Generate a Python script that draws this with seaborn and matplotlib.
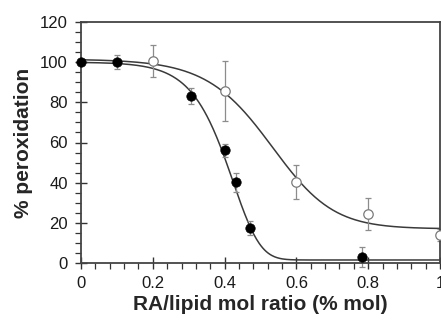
import numpy as np
import pandas as pd
import matplotlib
matplotlib.use('Agg')
import matplotlib.pyplot as plt
import seaborn as sns
from matplotlib.ticker import MultipleLocator

sns.set_theme(style = 'ticks')
plt.rcParams['font.family'] = ['Liberation Sans', 'DejaVu Sans']

# filled circles
ratio_filled = [0.0, 0.1, 0.306, 0.40, 0.431, 0.471, 0.782]
perox_filled = [100.0, 100.0, 83.2, 56.2, 40.2, 17.3, 2.8]
err_filled = [1.0, 3.5, 3.8, 3.3, 4.6, 3.4, 5.0]

# open circles
ratio_open = [0.2, 0.4, 0.6, 0.8, 1.0]
perox_open = [100.5, 85.5, 40.5, 24.5, 13.8]
err_open = [8.0, 15.0, 8.5, 8.0, 3.0]

# fitted sigmoid parameters: bottom, top, centre, width, asymmetry
fit_filled = (1.5, 100.0, 0.54, 0.065, 6.0)
fit_open = (17.0, 101.5, 0.56, 0.095, 1.30)

x_ticks = [0, 0.2, 0.4, 0.6, 0.8, 1.0]
x_labels = ['0', '0.2', '0.4', '0.6', '0.8', '1']
y_ticks = [0, 20, 40, 60, 80, 100, 120]
y_labels = ['0', '20', '40', '60', '80', '100', '120']


def sigmoid(x, b, t, c, s, g):
    return b + (t - b) / (1 + np.exp((x - c) / s)) ** g


def main() -> None:

    fig = plt.figure(figsize = (4.41, 3.22), dpi = 100)
    ax = fig.add_axes([81 / 441, 1 - 263 / 322, 359 / 441, 241 / 322])

    xs = np.linspace(0, 1, 400)
    curves = pd.DataFrame({
        'x': np.concatenate([xs, xs]),
        'y': np.concatenate([sigmoid(xs, *fit_filled), sigmoid(xs, *fit_open)]),
        'set': ['filled'] * len(xs) + ['open'] * len(xs),
    })
    sns.lineplot(data = curves, x = 'x', y = 'y', units = 'set', estimator = None,
                 color = '#3a3a3a', linewidth = 1.1, ax = ax, legend = False)

    ax.errorbar(ratio_open, perox_open, yerr = err_open, fmt = 'none',
                ecolor = '#8c8c8c', elinewidth = 0.9, capsize = 2.0, capthick = 0.9, clip_on = False)
    ax.errorbar(ratio_filled, perox_filled, yerr = err_filled, fmt = 'none',
                ecolor = '#8c8c8c', elinewidth = 0.9, capsize = 2.0, capthick = 0.9, clip_on = False)

    sns.scatterplot(x = ratio_open, y = perox_open, s = 46, color = 'white',
                    edgecolor = '#7a7a7a', linewidth = 0.9, ax = ax, clip_on = False, zorder = 4)
    sns.scatterplot(x = ratio_filled, y = perox_filled, s = 46, color = 'black',
                    edgecolor = 'black', linewidth = 0.5, ax = ax, clip_on = False, zorder = 5)

    ax.set_xlim(0, 1)
    ax.set_ylim(0, 120)
    ax.set_xticks(x_ticks, x_labels)
    ax.set_yticks(y_ticks, y_labels)
    ax.xaxis.set_minor_locator(MultipleLocator(0.04))
    ax.yaxis.set_minor_locator(MultipleLocator(5))

    ax.tick_params(which = 'major', direction = 'inout', length = 9, width = 1.0,
                   color = '#333333', labelsize = 12, labelcolor = '#1a1a1a', pad = 5)
    ax.tick_params(which = 'minor', direction = 'out', length = 4, width = 0.9, color = '#333333')

    for side in ['left', 'right', 'top', 'bottom']:
        ax.spines[side].set_visible(True)
        ax.spines[side].set_color('#444444')
        ax.spines[side].set_linewidth(1.3)

    ax.set_xlabel('RA/lipid mol ratio (% mol)', fontsize = 15, fontweight = 'bold', labelpad = 3)
    ax.set_ylabel('% peroxidation', fontsize = 15, fontweight = 'bold', labelpad = 5)

    fig.savefig('out.png', dpi = 100)


if __name__ == '__main__': main()
